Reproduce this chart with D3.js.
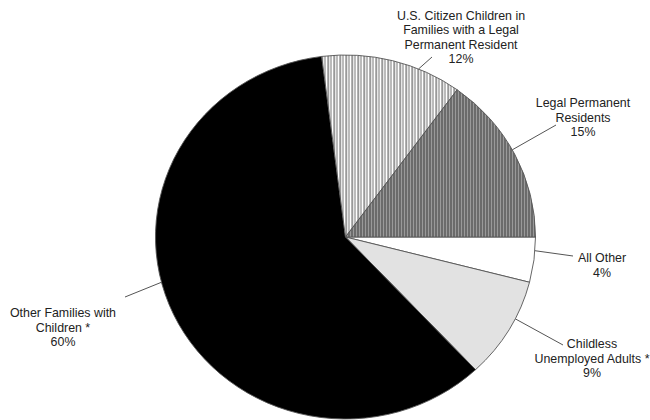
<!DOCTYPE html>
<html>
<head>
<meta charset="utf-8">
<script src="https://cdn.jsdelivr.net/npm/d3@7"></script>
<style>
  html, body { margin: 0; padding: 0; background: #fff; }
  svg { display: block; }
  text { font-family: "Liberation Sans", Arial, sans-serif; font-size: 12.4px; fill: #222; }
</style>
</head>
<body>
<svg id="chart" width="650" height="420"></svg>
<script>
// ---- Data (clockwise from 3 o'clock) ----
const categories = [
  "All Other",
  "Childless Unemployed Adults *",
  "Other Families with Children *",
  "U.S. Citizen Children in Families with a Legal Permanent Resident",
  "Legal Permanent Residents"
];
const values = [4, 9, 60, 12, 15];
const percentLabels = ["4%", "9%", "60%", "12%", "15%"];
const labelLines = [
  ["All Other"],
  ["Childless", "Unemployed Adults *"],
  ["Other Families with", "Children *"],
  ["U.S. Citizen Children in", "Families with a Legal", "Permanent Resident"],
  ["Legal Permanent", "Residents"]
];

// ---- Layout / style (kept apart from data) ----
const W = 650, H = 420;
const cx = 345.5, cy = 237, rx = 190, ry = 182;
const fills = ["#ffffff", "#e2e2e2", "#000000", "url(#hatchLight)", "url(#hatchDark)"];
// leader: fraction along slice where line starts, end point; text: center x, first baseline
const labelLayout = [
  { frac: 0.30, end: [573, 256], tx: 602, ty: 262 },
  { frac: 0.38, end: [563, 345], tx: 592, ty: 348 },
  { frac: 0.55, end: [125, 297], tx: 63,  ty: 317 },
  { frac: 0.69, end: [432, 57],  tx: 461, ty: 19.5 },
  { frac: 0.47, end: [556, 125], tx: 583, ty: 107 }
];
const lineH = 14.6;

const svg = d3.select("#chart");
const defs = svg.append("defs");

// light vertical hatch (white with dark/grey lines)
const pL = defs.append("pattern").attr("id", "hatchLight")
  .attr("patternUnits", "userSpaceOnUse").attr("width", 6).attr("height", 6);
pL.append("rect").attr("width", 6).attr("height", 6).attr("fill", "#fff");
pL.append("rect").attr("x", 0).attr("width", 1).attr("height", 6).attr("fill", "#666");
pL.append("rect").attr("x", 1).attr("width", 1).attr("height", 6).attr("fill", "#ccc");
pL.append("rect").attr("x", 3).attr("width", 1).attr("height", 6).attr("fill", "#777");

// dark vertical hatch (grey with dark lines)
const pD = defs.append("pattern").attr("id", "hatchDark")
  .attr("patternUnits", "userSpaceOnUse").attr("width", 3).attr("height", 6);
pD.append("rect").attr("width", 3).attr("height", 6).attr("fill", "#9a9a9a");
pD.append("rect").attr("x", 0).attr("width", 1).attr("height", 6).attr("fill", "#3c3c3c");

const pie = d3.pie().sort(null).value(d => d)
  .startAngle(Math.PI / 2).endAngle(Math.PI / 2 + 2 * Math.PI);
const arcs = pie(values);
const arc = d3.arc().innerRadius(0).outerRadius(rx);

const g = svg.append("g")
  .attr("transform", `translate(${cx},${cy}) scale(1,${ry / rx})`);

g.selectAll("path.slice").data(arcs).enter().append("path")
  .attr("class", "slice")
  .attr("d", arc)
  .attr("fill", (d, i) => fills[i])
  .attr("stroke", "#555")
  .attr("stroke-width", 0.9)
  .attr("vector-effect", "non-scaling-stroke");

// leaders and labels
const lbl = svg.append("g");
arcs.forEach((a, i) => {
  const L = labelLayout[i];
  const th = a.startAngle + (a.endAngle - a.startAngle) * L.frac;
  const sx = cx + rx * Math.sin(th);
  const sy = cy - ry * Math.cos(th);
  lbl.append("line")
    .attr("x1", sx).attr("y1", sy)
    .attr("x2", L.end[0]).attr("y2", L.end[1])
    .attr("stroke", "#555").attr("stroke-width", 1);
  const lines = labelLines[i].concat([percentLabels[i]]);
  const t = lbl.append("text").attr("text-anchor", "middle");
  lines.forEach((s, k) => {
    t.append("tspan").attr("x", L.tx).attr("y", L.ty + k * lineH).text(s);
  });
});
</script>
</body>
</html>
